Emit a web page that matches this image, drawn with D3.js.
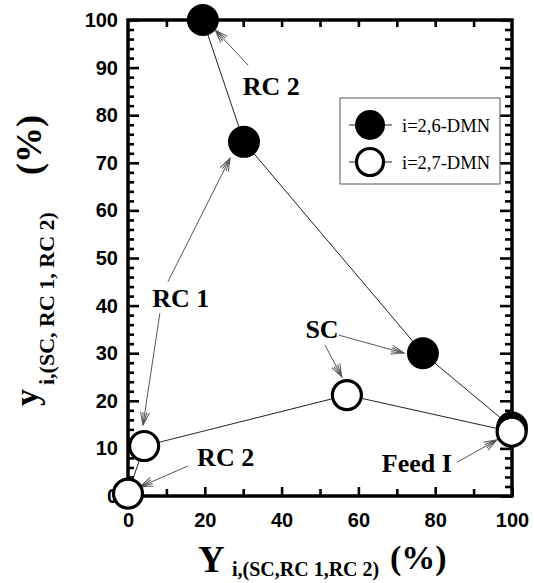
<!DOCTYPE html>
<html>
<head>
<meta charset="utf-8">
<script src="https://cdn.jsdelivr.net/npm/d3@7"></script>
<style>
  body { margin: 0; background: #fff; }
  svg { display: block; }
</style>
</head>
<body>
<div id="chart"></div>
<script>
// data (percent)
var xFilled = [19.5, 30.2, 76.8, 100];   // i=2,6-DMN
var yFilled = [100, 74.4, 30.0, 14.4];
var xOpen = [0, 4.2, 57.0, 99.9];       // i=2,7-DMN
var yOpen = [0.5, 10.5, 21.2, 13.5];
var seriesNames = ["i=2,6-DMN", "i=2,7-DMN"];

var xTickLabels = [0, 20, 40, 60, 80, 100];
var yTickLabels = [0, 10, 20, 30, 40, 50, 60, 70, 80, 90, 100];

// annotation labels and arrows, in data units
var noteText = ["RC 2", "RC 1", "RC 2", "SC", "Feed I"];
var noteX = [29.9, 6.3, 18.0, 46.2, 66.1];
var noteY = [84.2, 39.8, 6.2, 33.1, 5.1];
var arrowX1 = [31.3, 10.4, 8.3, 15.6, 54.9, 51.3, 85.7];
var arrowY1 = [90.5, 45.0, 38.4, 6.3, 33.8, 31.7, 7.1];
var arrowX2 = [22.7, 26.6, 3.9, 3.1, 71.9, 55.7, 96.1];
var arrowY2 = [97.9, 71.0, 14.9, 1.9, 30.0, 25.0, 11.8];

var W = 534, H = 583;
var margin = {t: 20, r: 22, b: 87, l: 128};
var width = W - margin.l - margin.r,
    height = H - margin.t - margin.b;

var svg = d3.select('#chart').append('svg')
    .attr('width', W)
    .attr('height', H);

var plot = svg.append('g')
    .attr('transform', 'translate(' + margin.l + ',' + margin.t + ')');

var scaleX = d3.scaleLinear().domain([0, 100]).range([0, width]);
var scaleY = d3.scaleLinear().domain([0, 100]).range([height, 0]);

var sans = "'Liberation Sans', Arial, sans-serif";
var serif = "'Liberation Serif', 'Times New Roman', serif";

// ticks: minor every 2 on y, every 10 on x
var yMinor = d3.range(0, 101, 2).filter(function(d){ return d % 10 != 0; });
var xMinor = d3.range(10, 100, 20);

function styleAxis(g){
    g.select('.domain').remove();
    g.selectAll('line').attr('stroke', '#000').attr('stroke-width', 2.6);
}

plot.append('g').call(d3.axisLeft(scaleY).tickValues(yMinor).tickSize(-6).tickFormat('')).call(styleAxis);
plot.append('g').call(d3.axisLeft(scaleY).tickValues(yTickLabels).tickSize(-11).tickPadding(10))
    .call(styleAxis)
    .selectAll('text').attr('font-family', sans).attr('font-weight', 'bold').attr('font-size', 20).attr('fill', '#000');

plot.append('g').attr('transform', 'translate(' + width + ',0)')
    .call(d3.axisRight(scaleY).tickValues(yMinor).tickSize(-7).tickFormat('')).call(styleAxis);
plot.append('g').attr('transform', 'translate(' + width + ',0)')
    .call(d3.axisRight(scaleY).tickValues(yTickLabels).tickSize(-12).tickFormat('')).call(styleAxis);

plot.append('g').attr('transform', 'translate(0,' + height + ')')
    .call(d3.axisBottom(scaleX).tickValues(xMinor).tickSize(-7).tickFormat('')).call(styleAxis);
plot.append('g').attr('transform', 'translate(0,' + height + ')')
    .call(d3.axisBottom(scaleX).tickValues(xTickLabels).tickSize(-9).tickPadding(17))
    .call(styleAxis)
    .selectAll('text').attr('font-family', sans).attr('font-weight', 'bold').attr('font-size', 20).attr('fill', '#000');

plot.append('g')
    .call(d3.axisTop(scaleX).tickValues(d3.range(10, 100, 10)).tickSize(-7).tickFormat('')).call(styleAxis);

// frame
plot.append('rect')
    .attr('x', 0).attr('y', 0)
    .attr('width', width).attr('height', height)
    .attr('fill', 'none').attr('stroke', '#000').attr('stroke-width', 3.5);

// connecting lines
var line = d3.line()
    .x(function(d){ return scaleX(d[0]); })
    .y(function(d){ return scaleY(d[1]); });

var filledPts = d3.zip(xFilled, yFilled);
var openPts = d3.zip(xOpen, yOpen);

plot.append('path').datum(filledPts).attr('d', line)
    .attr('fill', 'none').attr('stroke', '#222').attr('stroke-width', 1);
plot.append('path').datum(openPts).attr('d', line)
    .attr('fill', 'none').attr('stroke', '#222').attr('stroke-width', 1);

// arrows (open V heads)
svg.append('defs').append('marker')
    .attr('id', 'vhead')
    .attr('viewBox', '-14 -6 16 12')
    .attr('refX', 0).attr('refY', 0)
    .attr('markerWidth', 16).attr('markerHeight', 12)
    .attr('markerUnits', 'userSpaceOnUse')
    .attr('orient', 'auto')
    .append('path')
    .attr('d', 'M-13,-4.5L0,0L-13,4.5M-13,-2L0,0L-13,2')
    .attr('fill', 'none').attr('stroke', '#555').attr('stroke-width', 1);

plot.selectAll('.arrow').data(d3.range(arrowX1.length)).enter()
    .append('line').attr('class', 'arrow')
    .attr('x1', function(i){ return scaleX(arrowX1[i]); })
    .attr('y1', function(i){ return scaleY(arrowY1[i]); })
    .attr('x2', function(i){ return scaleX(arrowX2[i]); })
    .attr('y2', function(i){ return scaleY(arrowY2[i]); })
    .attr('stroke', '#555').attr('stroke-width', 1)
    .attr('marker-end', 'url(#vhead)');

// points
plot.selectAll('.filled').data(filledPts).enter()
    .append('circle').attr('class', 'filled')
    .attr('cx', function(d){ return scaleX(d[0]); })
    .attr('cy', function(d){ return scaleY(d[1]); })
    .attr('r', 16).attr('fill', '#000');

plot.selectAll('.open').data(openPts).enter()
    .append('circle').attr('class', 'open')
    .attr('cx', function(d){ return scaleX(d[0]); })
    .attr('cy', function(d){ return scaleY(d[1]); })
    .attr('r', 14.5).attr('fill', '#fff').attr('stroke', '#000').attr('stroke-width', 3.2);

// annotation text
plot.selectAll('.note').data(noteText).enter()
    .append('text').attr('class', 'note')
    .attr('x', function(d, i){ return scaleX(noteX[i]); })
    .attr('y', function(d, i){ return scaleY(noteY[i]); })
    .attr('font-family', serif).attr('font-weight', 'bold').attr('font-size', 26)
    .text(function(d){ return d; });

// legend
var legend = svg.append('g').attr('transform', 'translate(340,98)');
legend.append('rect').attr('width', 160).attr('height', 86)
    .attr('fill', '#fff').attr('stroke', '#555').attr('stroke-width', 1);
seriesNames.forEach(function(name, i){
    var cy = 27 + i * 37;
    legend.append('line').attr('x1', 9).attr('x2', 52).attr('y1', cy).attr('y2', cy)
        .attr('stroke', '#222').attr('stroke-width', 1);
    legend.append('circle').attr('cx', 30).attr('cy', cy)
        .attr('r', i == 0 ? 15 : 13.5)
        .attr('fill', i == 0 ? '#000' : '#fff')
        .attr('stroke', '#000').attr('stroke-width', i == 0 ? 0 : 3.2);
    legend.append('text').attr('x', 62).attr('y', cy + 7)
        .attr('font-family', serif).attr('font-size', 18.5)
        .text(name);
});

// x axis title
var xt = svg.append('text').attr('x', 198).attr('y', 572)
    .attr('font-family', serif).attr('font-weight', 'bold');
xt.append('tspan').attr('font-size', 37).text('Y');
xt.append('tspan').attr('x', 232).attr('y', 576).attr('font-size', 20).text('i,(SC,RC 1,RC 2)');
xt.append('tspan').attr('x', 390).attr('y', 569).attr('font-size', 34).text('(%)');

// y axis title (rotated)
var yt = svg.append('text').attr('transform', 'rotate(-90)')
    .attr('x', -406).attr('y', 38)
    .attr('font-family', serif).attr('font-weight', 'bold');
yt.append('tspan').attr('font-size', 34).text('y');
yt.append('tspan').attr('x', -385).attr('y', 54).attr('font-size', 22).text('i,(SC, RC 1, RC 2)');
yt.append('tspan').attr('x', -175).attr('y', 41).attr('font-size', 36).text('(%)');
</script>
</body>
</html>
